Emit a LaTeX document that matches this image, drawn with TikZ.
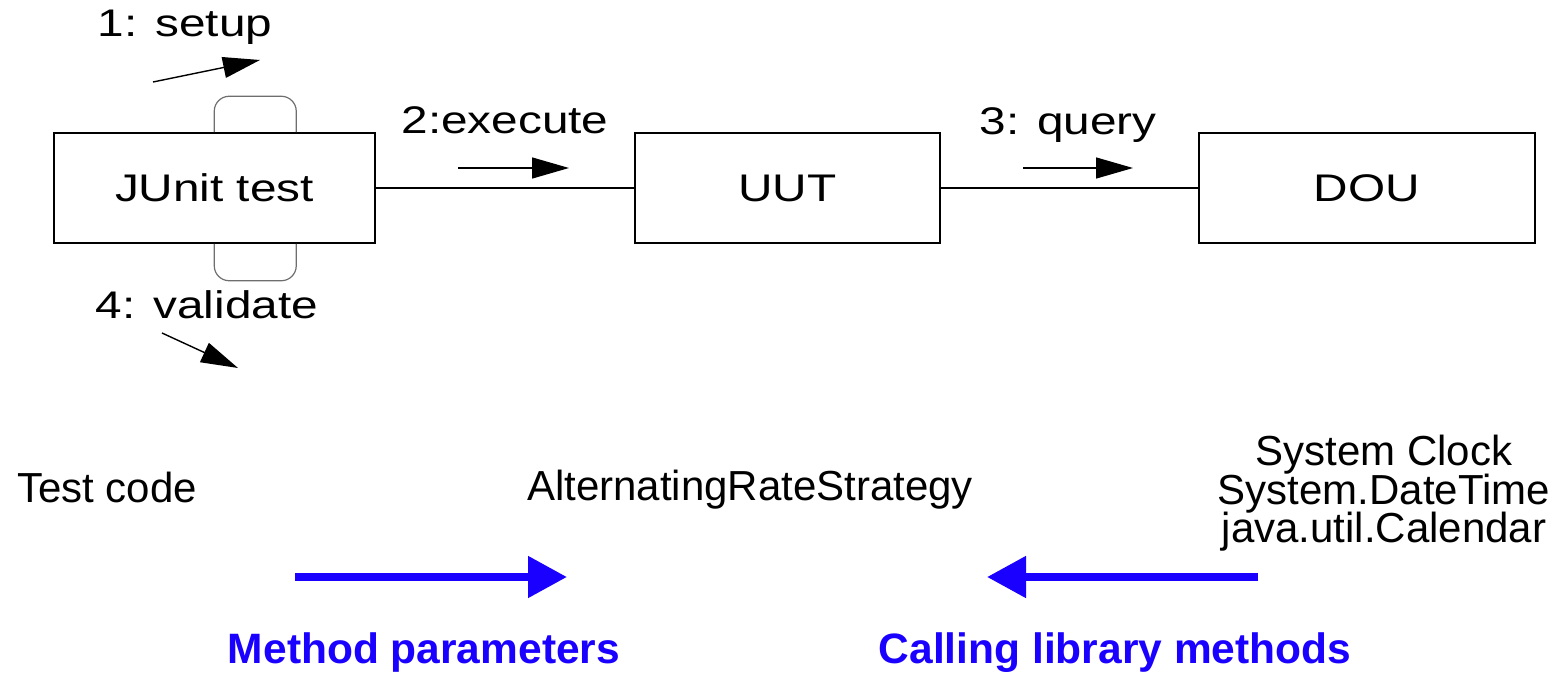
\documentclass[tikz,border=0pt]{standalone}
\usepackage{fontspec}
\setmainfont{Liberation Sans}
\usetikzlibrary{arrows.meta,calc}
\definecolor{arrowblue}{RGB}{26,0,255}
\definecolor{loopgrey}{RGB}{110,110,110}
\newcommand\topfont{\fontsize{38.5}{44}\selectfont}
\newcommand\botfont{\fontsize{42}{38.5}\selectfont\lineskiplimit=-30pt\relax}
\newcommand\bluefont{\fontsize{42.5}{44}\selectfont\bfseries}
\newcommand\wtxt[1]{\scalebox{1.24}[1]{#1}}
\tikzset{
  objbox/.style={draw, line width=1.5pt, inner sep=0pt, minimum height=110pt, font=\topfont},
  link/.style={line width=1.5pt},
  msgarrow/.style={line width=1.4pt, -{Triangle[length=37pt,width=21pt]}},
  msglabel/.style={anchor=base, inner sep=0pt, font=\topfont},
  selfloop/.style={draw=loopgrey, line width=1.2pt, rounded corners=15pt},
  bigarrow/.style={draw=arrowblue, line width=8pt, -{Triangle[length=39pt,width=40pt]}},
  plaintext/.style={anchor=base, inner sep=0pt, font=\botfont},
  bluelabel/.style={anchor=base, inner sep=0pt, text=arrowblue, font=\bluefont}
}
\begin{document}
\begin{tikzpicture}[x=1pt, y=-1pt]
\useasboundingbox (0,0) rectangle (1564,674);

% objects
\node[objbox, minimum width=321pt] (ju) at (214.5,188) {\wtxt{JUnit test}};
\node[objbox, minimum width=305pt] (uut) at (787.5,188) {\wtxt{UUT}};
\node[objbox, minimum width=336pt] (dou) at (1367,188) {\wtxt{DOU}};

% links
\draw[link] (ju) -- (uut);
\draw[link] (uut) -- (dou);

% self loops on JUnit test
\draw[selfloop] ([xshift=161pt]ju.north west) -- ++(0,-36) -- ++(82,0) -- ++(0,36);
\draw[selfloop] ([xshift=161pt]ju.south west) -- ++(0,37) -- ++(82,0) -- ++(0,-37);

% messages
\coordinate (s1) at (153,82);  \coordinate (s2) at (260,60);
\draw[msgarrow] (s1) -- (s2);
\node[msglabel] (lsetup) at (185,37) {\wtxt{1: setup}};

\coordinate (e1) at (458,168); \coordinate (e2) at (569,168);
\draw[msgarrow] (e1) -- (e2);
\node[msglabel] (lexec) at (505,134) {\wtxt{2:execute}};

\coordinate (q1) at (1023,168); \coordinate (q2) at (1133,168);
\draw[msgarrow] (q1) -- (q2);
\node[msglabel] (lquery) at (1068,135) {\wtxt{3: query}};

\coordinate (v1) at (162,333); \coordinate (v2) at (238,368);
\draw[msgarrow] (v1) -- (v2);
\node[msglabel] (lval) at (207,318) {\wtxt{4: validate}};

% lower part
\node[plaintext] (tc) at (107,502) {Test code};
\node[plaintext] (ars) at (750,500) {AlternatingRateStrategy};
\node[anchor=north, inner sep=0pt, align=center, font=\botfont] (sc) at (1384,435)
  {System Clock\\System.DateTime\\java.util.Calendar};

\coordinate (b1) at (295,577); \coordinate (b2) at (567,577);
\draw[bigarrow] (b1) -- (b2);
\coordinate (c1) at (1258,577); \coordinate (c2) at (987,577);
\draw[bigarrow] (c1) -- (c2);

\node[bluelabel] (mp) at (424,663) {Method parameters};
\node[bluelabel] (clm) at (1115,663) {Calling library methods};
\end{tikzpicture}
\end{document}
